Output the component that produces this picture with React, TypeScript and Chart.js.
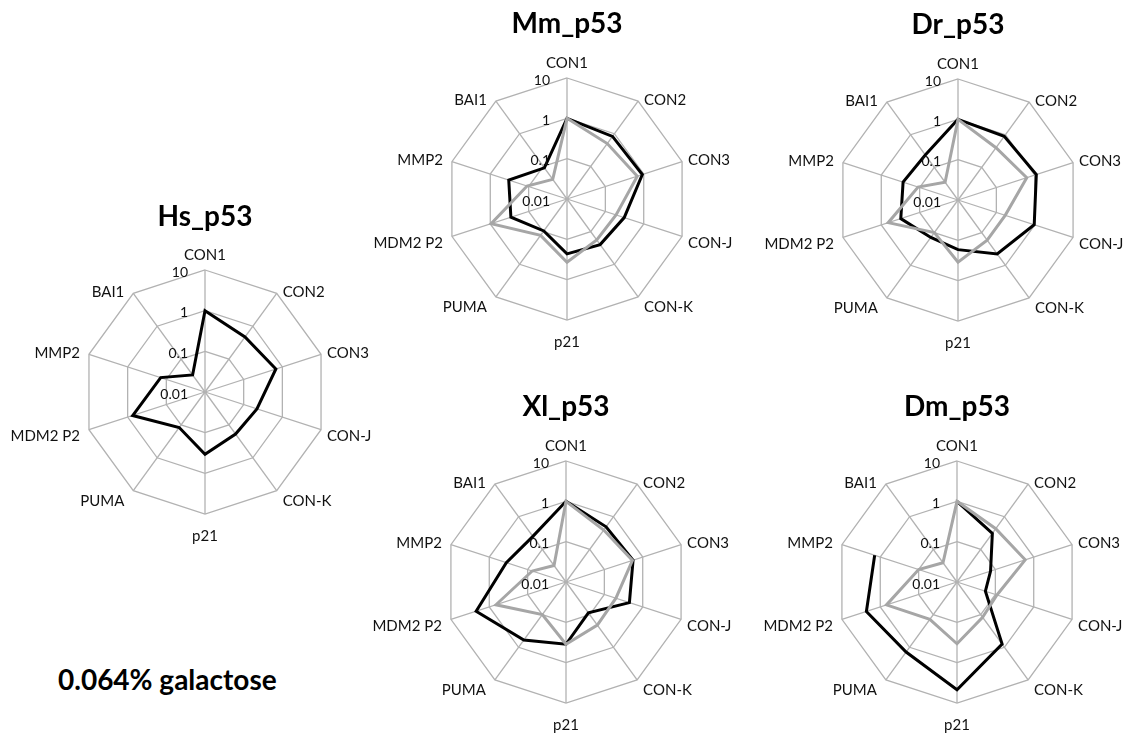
import React, { useEffect, useRef } from 'react';
import { Chart, registerables } from 'chart.js';

Chart.register(...registerables);

// Axes of every radar, clockwise from the top
const categories = ['CON1', 'CON2', 'CON3', 'CON-J', 'CON-K', 'p21', 'PUMA', 'MDM2 P2', 'MMP2', 'BAI1'];
// Logarithmic rings
const tickValues = [0.01, 0.1, 1, 10];

// Relative expression per species (black = first series, grey = second series)
const hsBlack = [1.0, 0.47, 0.68, 0.22, 0.19, 0.34, 0.12, 0.74, 0.14, 0.033];

const mmBlack = [1.0, 0.83, 0.92, 0.31, 0.25, 0.23, 0.095, 0.29, 0.33, 0.09];
const mmGray = [1.0, 0.5, 0.68, 0.19, 0.18, 0.37, 0.13, 0.95, 0.11, 0.04];

const drBlack = [1.0, 0.89, 1.1, 0.97, 0.45, 0.17, 0.14, 0.31, 0.27, 0.24];
const drGray = [1.0, 0.4, 0.62, 0.17, 0.17, 0.35, 0.1, 0.66, 0.11, 0.035];

const xlBlack = [1.0, 0.49, 0.56, 0.45, 0.088, 0.35, 0.6, 2.2, 0.36, 0.25];
const xlGray = [1.0, 0.39, 0.54, 0.2, 0.21, 0.35, 0.1, 0.67, 0.076, 0.032];

const dmBlack = [1.0, 0.31, 0.075, 0.055, 0.8, 4.7, 1.4, 2.3, 1.4, null];
const dmGray = [1.0, 0.43, 0.6, 0.11, 0.12, 0.34, 0.14, 0.69, 0.1, 0.039];

const FONT = 'Lato, "Open Sans", sans-serif';
const GRID = '#b2b2b2';
const BLACK = '#000000';
const GREY = '#a6a6a6';
const TEXT = '#111111';

// canvas box and where the radar centre sits inside it
const CW = 440;
const CH = 360;
const OX = 220;
const OY = 195;

type Panel = {
  title: string;
  cx: number;
  cy: number;
  radius: number;
  black: (number | null)[];
  gray?: (number | null)[];
};

const panels: Panel[] = [
  { title: 'Hs_p53', cx: 205, cy: 392, radius: 122, black: hsBlack },
  { title: 'Mm_p53', cx: 567, cy: 199, radius: 121, black: mmBlack, gray: mmGray },
  { title: 'Dr_p53', cx: 958, cy: 200, radius: 121, black: drBlack, gray: drGray },
  { title: 'Xl_p53', cx: 566, cy: 582, radius: 121, black: xlBlack, gray: xlGray },
  { title: 'Dm_p53', cx: 957, cy: 582, radius: 121, black: dmBlack, gray: dmGray },
];

const toLog = (arr: (number | null)[]) => arr.map((v) => (v == null ? null : Math.log10(v)));

const tickText = (v: number) => {
  const hit = tickValues.find((t) => Math.abs(Math.log10(t) - v) < 1e-6);
  return hit == null ? '' : String(hit);
};

// Draws ring values, axis names and the panel title using the radial scale geometry
const radarText = {
  id: 'radarText',
  afterDatasetsDraw(chart: any, _args: any, opts: any) {
    const s = chart.scales.r;
    const ctx = chart.ctx as CanvasRenderingContext2D;
    ctx.save();

    ctx.font = `14px ${FONT}`;
    ctx.fillStyle = TEXT;
    ctx.textAlign = 'right';
    ctx.textBaseline = 'middle';
    s.ticks.forEach((t: any) => {
      const d = s.getDistanceFromCenterForValue(t.value);
      ctx.fillText(tickText(t.value), s.xCenter - 17, s.yCenter - d + 2);
    });

    ctx.font = `15px ${FONT}`;
    (chart.data.labels as string[]).forEach((lab, i) => {
      const a = s.getIndexAngle(i);
      const p = s.getPointPosition(i, s.drawingArea);
      const deg = Math.round((a * 180) / Math.PI) % 360;
      const c = Math.cos(a);
      let x = p.x;
      let y = p.y;
      if (deg === 0) {
        ctx.textAlign = 'center';
        y -= 15;
      } else if (deg === 180) {
        ctx.textAlign = 'center';
        y += 22;
      } else if (deg < 180) {
        ctx.textAlign = 'left';
        x += 6;
        y += c > 0 ? -1 : 4 - 7.5 * c;
      } else {
        ctx.textAlign = 'right';
        x -= 9;
        y += c > 0 ? -1 : 4 - 7.5 * c;
      }
      ctx.fillText(lab, x, y);
    });

    ctx.font = `bold 28px ${FONT}`;
    ctx.fillStyle = '#000';
    ctx.textAlign = 'center';
    ctx.textBaseline = 'alphabetic';
    ctx.fillText(opts.title, s.xCenter, s.yCenter - 166);
    ctx.restore();
  },
};

function RadarPanel({ panel }: { panel: Panel }) {
  const ref = useRef<HTMLCanvasElement>(null);

  useEffect(() => {
    if (!ref.current) return;
    const R = panel.radius;
    const datasets: any[] = [
      {
        label: 'series 1',
        data: toLog(panel.black),
        borderColor: BLACK,
        borderWidth: 3,
        pointRadius: 0,
        fill: false,
        spanGaps: false,
        order: 1,
      },
    ];
    if (panel.gray) {
      datasets.push({
        label: 'series 2',
        data: toLog(panel.gray),
        borderColor: GREY,
        borderWidth: 3,
        pointRadius: 0,
        fill: false,
        spanGaps: false,
        order: 0,
      });
    }
    const chart = new Chart(ref.current, {
      type: 'radar',
      data: { labels: categories, datasets },
      plugins: [radarText],
      options: {
        animation: false,
        responsive: false,
        devicePixelRatio: 1,
        layout: {
          padding: { left: OX - R, right: CW - OX - R, top: OY - R, bottom: CH - OY - R },
        },
        elements: { line: { tension: 0, borderJoinStyle: 'miter' } },
        plugins: {
          legend: { display: false },
          tooltip: { enabled: false },
          radarText: { title: panel.title },
        } as any,
        scales: {
          r: {
            min: Math.log10(tickValues[0]),
            max: Math.log10(tickValues[tickValues.length - 1]),
            ticks: { display: false, stepSize: 1 },
            pointLabels: { display: false },
            grid: { color: GRID, lineWidth: 1.3 },
            angleLines: { color: GRID, lineWidth: 1.3 },
          },
        },
      },
    });
    return () => chart.destroy();
  }, [panel]);

  return (
    <canvas
      ref={ref}
      width={CW}
      height={CH}
      style={{ position: 'absolute', left: panel.cx - OX, top: panel.cy - OY, width: CW, height: CH }}
    />
  );
}

export default function App() {
  return (
    <div
      style={{
        position: 'absolute',
        left: 0,
        top: 0,
        width: 1123,
        height: 734,
        overflow: 'hidden',
        background: '#ffffff',
      }}
    >
      {panels.map((p) => (
        <RadarPanel key={p.title} panel={p} />
      ))}
      <div
        style={{
          position: 'absolute',
          left: 58,
          top: 663,
          fontFamily: FONT,
          fontWeight: 700,
          fontSize: 28,
          lineHeight: '33px',
          color: '#000',
          whiteSpace: 'nowrap',
        }}
      >
        0.064% galactose
      </div>
    </div>
  );
}
